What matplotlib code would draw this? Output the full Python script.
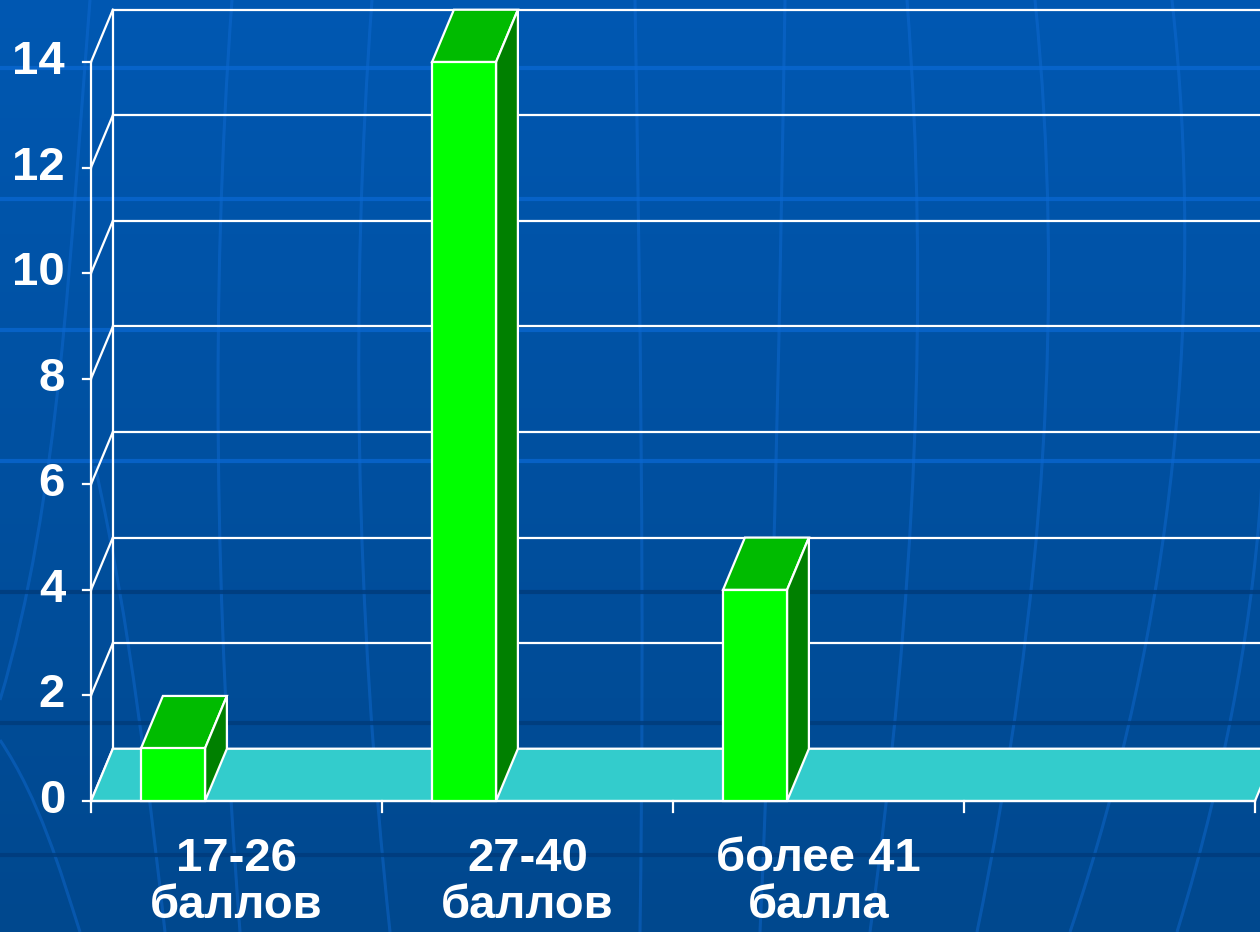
import matplotlib
matplotlib.use("Agg")
import matplotlib.pyplot as plt
import numpy as np
from matplotlib.patches import Polygon, PathPatch
from matplotlib.path import Path

# ---------------- data ----------------
categories = ["17-26\nбаллов", "27-40\nбаллов", "более 41\nбалла", ""]
values = [1, 14, 4]
y_ticks = [0, 2, 4, 6, 8, 10, 12, 14]
y_max = 14

# ---------------- style ----------------
W, H = 1260, 932
FONT = "Liberation Sans"
C_FRONT = "#00ff00"
C_TOP = "#00bb00"
C_SIDE = "#008000"
C_FLOOR = "#33cccc"
C_EDGE = "white"
DX, DY = 0.075, 0.99        # oblique depth offset (data units)
BAR_OFF, BAR_W = 0.172, 0.22
FS = 34

fig = plt.figure(figsize=(W / 100, H / 100), dpi=100)

# ---- background (gradient + faint globe lines) ----
bg = fig.add_axes([0, 0, 1, 1], zorder=0)
bg.set_xlim(0, W)
bg.set_ylim(H, 0)
bg.axis("off")
top = np.array([0, 88, 178]) / 255
bot = np.array([0, 72, 142]) / 255
t = np.linspace(0, 1, 256)[:, None]
grad = (top[None, :] * (1 - t) + bot[None, :] * t)[:, None, :]
bg.imshow(grad, extent=[0, W, H, 0], aspect="auto", interpolation="bicubic")
for yy in [68, 199, 330, 461]:
    bg.plot([0, W], [yy, yy], color="#0a68d2", lw=3, alpha=0.75)
for yy in [592, 723, 855]:
    bg.plot([0, W], [yy, yy], color="#003c7c", lw=3, alpha=0.85)
merid = [
    [(232, 0), (210, 300), (215, 600), (240, 932)],
    [(372, 0), (350, 300), (355, 600), (390, 932)],
    [(635, 0), (640, 300), (645, 600), (640, 932)],
    [(785, 0), (780, 300), (775, 600), (760, 932)],
    [(907, 0), (930, 300), (915, 600), (870, 932)],
    [(1035, 0), (1065, 300), (1045, 600), (977, 932)],
    [(1172, 0), (1205, 300), (1175, 620), (1070, 932)],
    [(1262, 480), (1255, 600), (1230, 760), (1177, 932)],
    [(90, 0), (70, 250), (60, 500), (0, 700)],
    [(0, 740), (40, 800), (60, 870), (80, 932)],
    [(95, 466), (130, 620), (150, 800), (165, 932)],
]
for pts in merid:
    path = Path(pts, [Path.MOVETO, Path.CURVE4, Path.CURVE4, Path.CURVE4])
    bg.add_patch(PathPatch(path, fill=False, edgecolor="#1470dc", lw=2.2, alpha=0.4))

# ---- main chart axes (data coordinates) ----
n = len(categories)
px_per_x = (1255 - 91) / n
px_per_y = (801 - 62) / y_max
ax = fig.add_axes([0, 0, 1, 1], zorder=1)
ax.patch.set_alpha(0)
ax.set_xlim(-91 / px_per_x, n + (W - 1255) / px_per_x)
ax.set_ylim(-(H - 801) / px_per_y, y_max + 62 / px_per_y)
ax.axis("off")

lw = 1.6
# back wall gridlines + side wall diagonals
for v in y_ticks:
    ax.plot([DX, n + DX], [v + DY, v + DY], color=C_EDGE, lw=lw, zorder=2)
    ax.plot([0, DX], [v, v + DY], color=C_EDGE, lw=lw, zorder=2)
ax.plot([DX, DX], [DY, y_max + DY], color=C_EDGE, lw=lw, zorder=2)

# floor
ax.add_patch(Polygon([(0, 0), (n, 0), (n + DX, DY), (DX, DY)], closed=True,
                     facecolor=C_FLOOR, edgecolor=C_EDGE, lw=lw, zorder=3))

# axes lines and ticks
ax.plot([0, 0], [0, y_max], color=C_EDGE, lw=lw, zorder=4)
ax.plot([0, n], [0, 0], color=C_EDGE, lw=lw, zorder=4)
tick_x = 8 / px_per_x
tick_y = 11 / px_per_y
for v in y_ticks:
    ax.plot([-tick_x, 0], [v, v], color=C_EDGE, lw=lw, zorder=4)
    ax.text(-26 / px_per_x, v, str(v), ha="right", va="center",
            fontsize=FS, fontweight="bold", color="white", family=FONT, zorder=5)
for i in range(n + 1):
    ax.plot([i, i], [0, -tick_y], color=C_EDGE, lw=lw, zorder=4)

# category labels (two lines each)
line_base = [(801 - 871) / px_per_y, (801 - 918) / px_per_y]
for i, lab in enumerate(categories):
    for j, part in enumerate(lab.split("\n")):
        if part:
            ax.text(i + 0.5, line_base[j], part, ha="center", va="baseline",
                    fontsize=FS, fontweight="bold", color="white", family=FONT, zorder=5)

# 3D bars
for i, v in enumerate(values):
    x0 = i + BAR_OFF
    x1 = x0 + BAR_W
    ax.add_patch(Polygon([(x0, v), (x1, v), (x1 + DX, v + DY), (x0 + DX, v + DY)],
                         closed=True, facecolor=C_TOP, edgecolor=C_EDGE, lw=lw, zorder=6))
    ax.add_patch(Polygon([(x1, 0), (x1 + DX, DY), (x1 + DX, v + DY), (x1, v)],
                         closed=True, facecolor=C_SIDE, edgecolor=C_EDGE, lw=lw, zorder=6))
    ax.add_patch(Polygon([(x0, 0), (x1, 0), (x1, v), (x0, v)],
                         closed=True, facecolor=C_FRONT, edgecolor=C_EDGE, lw=lw, zorder=7))

fig.savefig("out.png", dpi=100)
